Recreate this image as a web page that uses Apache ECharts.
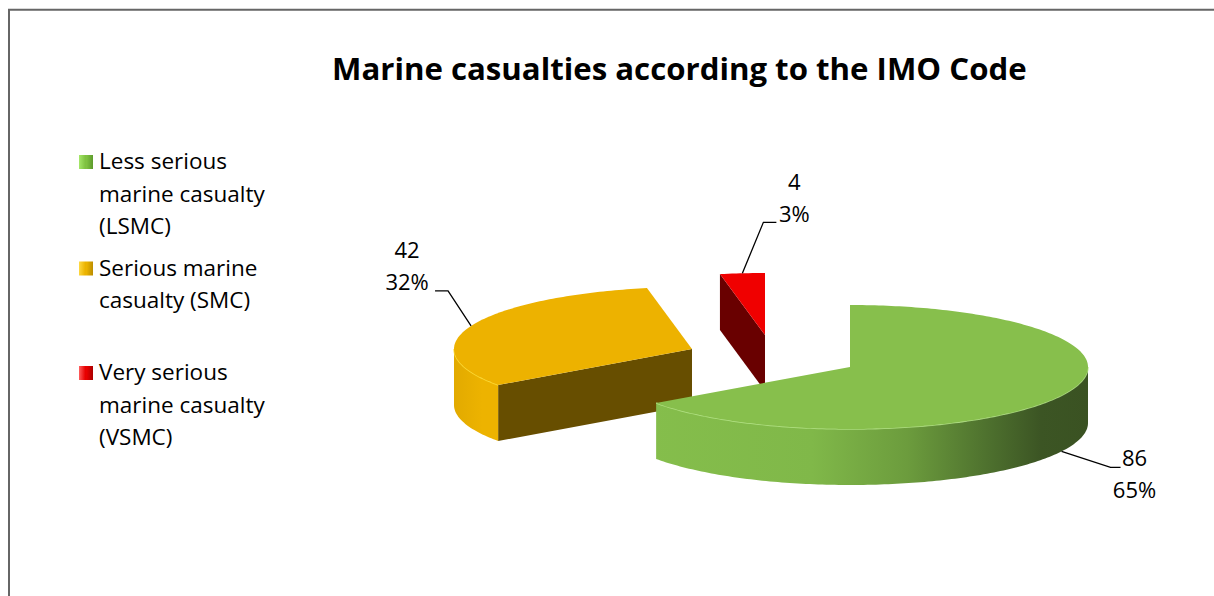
<!DOCTYPE html>
<html>
<head>
<meta charset="utf-8">
<title>Marine casualties according to the IMO Code</title>
<script src="https://cdn.jsdelivr.net/npm/echarts@6/dist/echarts.min.js"></script>
<style>
  html, body { margin: 0; padding: 0; background: #ffffff; overflow: hidden; }
  #chart { width: 1214px; height: 596px; }
</style>
</head>
<body>
<div id="chart"></div>
<script>
// ---- data ----
const categories = [
  'Less serious\nmarine casualty\n(LSMC)',
  'Serious marine\ncasualty (SMC)',
  'Very serious\nmarine casualty\n(VSMC)'
];
const casualtyCounts = [86, 42, 4];

// ---- look & layout ----
const FONT = '"Open Sans", "Liberation Sans", sans-serif';
const PIE = { cx: 850, cy: 367, rx: 238, ry: 62, depth: 56 };
// each slice is pulled out of the pie by its own offset (px)
const sliceShift = [[0, 0], [-158, -18], [-85, -32]];
// front-most slice is painted last
const sliceZ = [3, 2, 1];
const sliceStyles = [
  {
    top: '#87BF4C', cut: '#4E7230', rim: '#B9E98C',
    wall: [[0, '#86BF4C'], [0.42, '#80B849'], [0.62, '#6C9C3D'], [0.8, '#4C6E2D'], [0.9, '#3C5524'], [1, '#3A5222']],
    key: ['#A6E86A', '#7FC241', '#5C9A2C']
  },
  {
    top: '#EDB200', cut: '#674E00', rim: '#FFE23A',
    wall: [[0, '#E2AA00'], [0.06, '#EDB300'], [1, '#EDB200']],
    key: ['#FFDA45', '#EBB300', '#B98B00']
  },
  {
    top: '#F00000', cut: '#690000', rim: '#FF4A4A',
    wall: [[0, '#E00000'], [1, '#F00000']],
    key: ['#FF6060', '#E80000', '#A80000']
  }
];
// leader line: elbow offset from the anchor, horizontal run, label centre offset from the line end
const labelLayout = [
  { elbow: [49, 16], run: 10, text: [14, 6] },
  { elbow: [-23, -35], run: -13, text: [-28, -25.5] },
  { elbow: [21, -51], run: 13, text: [18, -25] }
];
// centre of the first text line of each legend entry (px)
const legendFirstLine = [160.5, 267, 371.5];
const LEGEND_LINE = 32.5;
const LEGEND_BOX = 14;
const LEGEND_BOX_DROP = 1.5;

const TOTAL = casualtyCounts.reduce((s, v) => s + v, 0);

function rimPoint(c, ang, drop) {
  return [c[0] + PIE.rx * Math.sin(ang), c[1] - PIE.ry * Math.cos(ang) + (drop || 0)];
}
function arcPoints(c, a0, a1, drop) {
  const pts = [];
  const n = Math.max(2, Math.ceil((a1 - a0) / (Math.PI / 180)));
  for (let k = 0; k <= n; k++) pts.push(rimPoint(c, a0 + (a1 - a0) * k / n, drop));
  return pts;
}

function renderSlice(idx) {
  return function (params, api) {
    const value = api.value(0);
    let before = 0;
    for (let k = 0; k < idx; k++) before += casualtyCounts[k];
    // clockwise from 12 o'clock
    const a0 = before / TOTAL * 2 * Math.PI;
    const a1 = (before + value) / TOTAL * 2 * Math.PI;
    const c = [PIE.cx + sliceShift[idx][0], PIE.cy + sliceShift[idx][1]];
    const st = sliceStyles[idx];
    const D = PIE.depth;
    const children = [];

    // radial cut faces that turn towards the viewer
    const cutFace = ang => ({
      type: 'polygon',
      shape: { points: [c, rimPoint(c, ang, 0), rimPoint(c, ang, D), [c[0], c[1] + D]] },
      style: { fill: st.cut }
    });
    if (Math.sin(a0) < -1e-6) children.push(cutFace(a0));
    if (Math.sin(a1) > 1e-6) children.push(cutFace(a1));

    // outer wall on the front half
    const w0 = Math.max(a0, Math.PI / 2);
    const w1 = Math.min(a1, Math.PI * 1.5);
    if (w1 > w0) {
      const topArc = arcPoints(c, w0, w1, 0);
      const botArc = arcPoints(c, w0, w1, D).reverse();
      children.push({
        type: 'polygon',
        shape: { points: topArc.concat(botArc) },
        style: {
          fill: {
            type: 'linear', x: c[0] - PIE.rx, y: 0, x2: c[0] + PIE.rx, y2: 0, global: true,
            colorStops: st.wall.map(s => ({ offset: s[0], color: s[1] }))
          }
        }
      });
      children.push({
        type: 'polyline',
        shape: { points: topArc },
        style: { stroke: st.rim, lineWidth: 1.5, fill: null, opacity: 0.8 }
      });
    }

    // top surface
    children.push({
      type: 'polygon',
      shape: { points: [c].concat(arcPoints(c, a0, a1, 0)) },
      style: { fill: st.top }
    });

    // data label with leader line
    const mid = (a0 + a1) / 2;
    const anchor = Math.cos(mid) < 0 ? rimPoint(c, mid, D) : rimPoint(c, mid, 0);
    const L = labelLayout[idx];
    const elbow = [anchor[0] + L.elbow[0], anchor[1] + L.elbow[1]];
    const end = [elbow[0] + L.run, elbow[1]];
    children.push({
      type: 'polyline',
      shape: { points: [anchor, elbow, end] },
      style: { stroke: '#000', lineWidth: 1.3, fill: null }
    });
    const pct = Math.round(value / TOTAL * 100);
    children.push({
      type: 'text',
      x: end[0] + L.text[0],
      y: end[1] + L.text[1],
      style: {
        text: value + '\n' + pct + '%',
        fontFamily: FONT, fontSize: 22, lineHeight: 32,
        fill: '#000', align: 'center', verticalAlign: 'middle'
      }
    });

    return { type: 'group', children };
  };
}

// legend marker: a square beside the first text line, inside a box as tall as the whole entry
function legendIcon(lines) {
  const h = lines * LEGEND_LINE;
  const y0 = LEGEND_LINE / 2 - LEGEND_BOX / 2 + LEGEND_BOX_DROP;
  return 'path://M0,0h0.01M0,' + y0 + 'h' + LEGEND_BOX + 'v' + LEGEND_BOX + 'h-' + LEGEND_BOX + 'z'
    + 'M0,' + h + 'h0.01';
}
// bevelled shading of the legend square (gradient runs across the square only)
function legendFill(i, lines) {
  const h = lines * LEGEND_LINE;
  const y0 = LEGEND_LINE / 2 - LEGEND_BOX / 2 + LEGEND_BOX_DROP;
  const k = sliceStyles[i].key;
  return {
    type: 'linear', x: 0, y: y0 / h, x2: 1, y2: (y0 + LEGEND_BOX) / h,
    colorStops: [
      { offset: 0, color: k[0] }, { offset: 0.45, color: k[1] },
      { offset: 0.55, color: k[1] }, { offset: 1, color: k[2] }
    ]
  };
}

const chart = echarts.init(document.getElementById('chart'), null, { renderer: 'svg' });

chart.setOption({
  backgroundColor: '#ffffff',
  animation: false,
  title: {
    text: 'Marine casualties according to the IMO Code',
    left: 332,
    top: 48,
    padding: 0,
    textStyle: { fontFamily: FONT, fontSize: 31.2, fontWeight: 'bold', color: '#000', lineHeight: 40 }
  },
  graphic: [{
    type: 'rect',
    shape: { x: 9, y: 9.8, width: 1400, height: 800 },
    style: { fill: null, stroke: '#666666', lineWidth: 2 },
    silent: true
  }],
  legend: categories.map((name, i) => {
    const lines = name.split('\n').length;
    return {
      data: [{ name: name, itemStyle: { color: legendFill(i, lines) } }],
      orient: 'vertical',
      left: 79,
      top: legendFirstLine[i] - LEGEND_LINE / 2,
      padding: 0,
      icon: legendIcon(lines),
      itemWidth: LEGEND_BOX,
      itemHeight: lines * LEGEND_LINE,
      itemStyle: { borderWidth: 0 },
      selectedMode: false,
      textStyle: {
        fontFamily: FONT, fontSize: 22.5, color: '#000',
        lineHeight: LEGEND_LINE,
        padding: [0, 0, 0, 1]
      }
    };
  }),
  series: categories.map((name, i) => ({
    type: 'custom',
    name: name,
    coordinateSystem: 'none',
    z: sliceZ[i],
    itemStyle: { color: sliceStyles[i].top },
    renderItem: renderSlice(i),
    data: [casualtyCounts[i]]
  }))
});
</script>
</body>
</html>
